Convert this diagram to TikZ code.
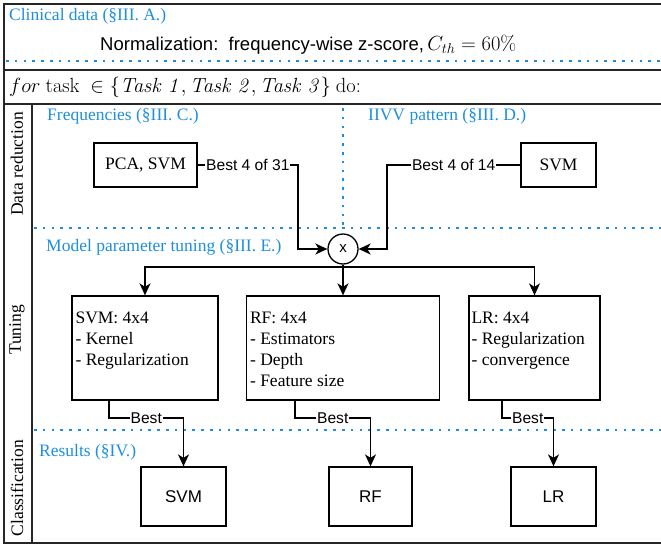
\RequirePackage{fix-cm}
\documentclass[tikz,border=0pt]{standalone}
\usepackage[no-math]{fontspec}
\setmainfont{Liberation Serif}
\setsansfont{Liberation Sans}
\usetikzlibrary{arrows.meta}
\definecolor{secblue}{HTML}{1E8FDE}
\newcommand{\serifsz}{\rmfamily\fontsize{17.5}{21}\selectfont}
\newcommand{\sanssz}{\sffamily\fontsize{17}{20}\selectfont}
\newcommand{\bestsz}{\sffamily\fontsize{15.6}{18}\selectfont}
\newcommand{\mathsz}{\fontsize{20.5}{24}\selectfont}
\tikzset{
  frame/.style={line width=1.6pt, draw=black!85},
  sepline/.style={draw=secblue, line width=2.6pt, dash pattern=on 2.6pt off 6.2pt},
  sec/.style={text=secblue, font=\serifsz, anchor=west, inner sep=0pt},
  box/.style={draw, line width=1.3pt, inner sep=0pt},
  conn/.style={line width=1.4pt},
  arr/.style={conn, -{Stealth[length=12pt,width=11pt,inset=3.5pt]}},
  lbl/.style={fill=white, inner sep=1pt, font=\bestsz},
  txt/.style={font=\serifsz, align=left, inner sep=0pt, anchor=north west},
  side/.style={font=\serifsz, rotate=90, inner sep=0pt}
}
\begin{document}
\begin{tikzpicture}[x=1pt,y=-1pt]
\useasboundingbox (0,0) rectangle (661,546);
\begin{scope}
\clip (0,0) rectangle (661,546);
% frame
\draw[frame] (670,4) -- (4,4) -- (4,543) -- (670,543);
\draw[frame] (4,70) -- (670,70);
\draw[frame] (4,104) -- (670,104);
\draw[frame] (32,104) -- (32,543);
% separators
\draw[sepline] (6,61) -- (661,61);
\draw[sepline] (34,228) -- (661,228);
\draw[sepline] (34,430) -- (661,430);
\draw[sepline] (343,108) -- (343,226);
\end{scope}
% headings
\node[sec] (hclin) at (9,16) {Clinical data (§III. A.)};
\node[font=\sffamily\fontsize{18.5}{22}\selectfont, anchor=west, inner sep=0pt] (norm) at (100,45)
  {Normalization:\ \ frequency-wise z-score,{\mathsz$\,C_{th} = 60\%$}};
\node[font=\mathsz, anchor=west, inner sep=0pt] (forl) at (9,87)
  {$for\ \mathrm{task}\ \in \{\mathit{Task\ 1}, \mathit{Task\ 2}, \mathit{Task\ 3}\}\ \mathrm{do{:}}$};
\node[side] (sdr) at (17,164) {Data reduction};
\node[side] (stun) at (17,330) {Tuning};
\node[side] (scla) at (17,488) {Classification};
\node[sec] (hfreq) at (47,116) {Frequencies (§III. C.)};
\node[sec] (hiivv) at (368,116) {IIVV pattern (§III. D.)};
\node[sec] (hmod) at (46,247) {Model parameter tuning (§III. E.)};
\node[sec] (hres) at (39,452) {Results (§IV.)};
% data reduction
\node[box, minimum width=103pt, minimum height=44pt, font=\serifsz] (pca) at (145.5,165) {PCA, SVM};
\node[box, minimum width=75pt, minimum height=44pt, font=\serifsz] (svmA) at (558.5,165) {SVM};
\node[circle, draw, line width=1.3pt, minimum size=30pt, inner sep=0pt,
  font=\sffamily\fontsize{15}{15}\selectfont] (mul) at (343,249) {x};
\coordinate (cL) at (298,165);
\coordinate (cR) at (387,165);
\draw[arr] (pca.east) -- node[lbl]{Best 4 of 31} (cL) |- (mul.west);
\draw[arr] (svmA.west) -- node[lbl]{Best 4 of 14} (cR) |- (mul.east);
% tuning
\node[box, minimum width=146pt, minimum height=104pt] (t1) at (145,348) {};
\node[box, minimum width=193pt, minimum height=104pt] (t2) at (343,348) {};
\node[box, minimum width=131pt, minimum height=104pt] (t3) at (534.5,348) {};
\node[txt] (t1x) at ([xshift=4pt,yshift=-16pt]t1.north west) {SVM: 4x4\\- Kernel\\- Regularization};
\node[txt] (t2x) at ([xshift=4pt,yshift=-16pt]t2.north west) {RF: 4x4\\- Estimators\\- Depth\\- Feature size};
\node[txt] (t3x) at ([xshift=3pt,yshift=-16pt]t3.north west) {LR: 4x4\\- Regularization\\- convergence};
\coordinate (hub) at (343,267);
\draw[conn] (mul.south) -- (hub);
\draw[arr] (hub) -| (t1.north);
\draw[arr] (hub) -- (t2.north);
\draw[arr] (hub) -| (t3.north);
% results
\node[box, minimum width=85pt, minimum height=59pt, font=\sanssz] (r1) at (183.5,496.5) {SVM};
\node[box, minimum width=83pt, minimum height=59pt, font=\sanssz] (r2) at (370.5,496.5) {RF};
\node[box, minimum width=85pt, minimum height=59pt, font=\sanssz] (r3) at (553.5,496.5) {LR};
\coordinate (b1) at (109,418);
\coordinate (b2) at (295,418);
\coordinate (b3) at (502,418);
\draw[arr] (t1.south -| b1) -- (b1) -- node[lbl]{Best} (b1 -| r1.north) -- (r1.north);
\draw[arr] (t2.south -| b2) -- (b2) -- node[lbl]{Best} (b2 -| r2.north) -- (r2.north);
\draw[arr] (t3.south -| b3) -- (b3) -- node[lbl]{Best} (b3 -| r3.north) -- (r3.north);
\end{tikzpicture}
\end{document}
